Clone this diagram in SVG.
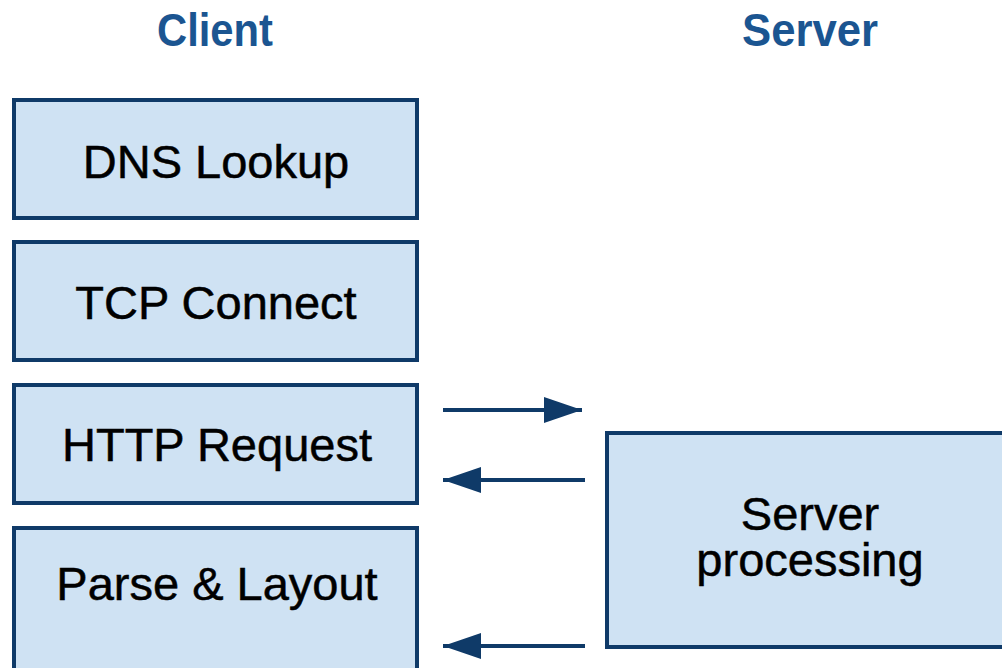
<svg xmlns="http://www.w3.org/2000/svg" width="1002" height="668" viewBox="0 0 1002 668">
  <defs>
    <marker id="arrowhead" markerUnits="userSpaceOnUse" markerWidth="40" markerHeight="28" refX="38" refY="14" orient="auto">
      <path d="M0,1 L38,14 L0,27 Z" fill="#0f3a68"/>
    </marker>
  </defs>
  <style>
    .box { fill: #cfe2f3; stroke: #0f3a68; stroke-width: 4; }
    .label { font-family: "Liberation Sans", Arial, sans-serif; font-size: 47px; fill: #000; stroke: #000; stroke-width: 0.5; text-anchor: middle; }
    .title { font-family: "Liberation Sans", Arial, sans-serif; font-size: 47px; font-weight: bold; fill: #1b5591; text-anchor: middle; }
    .conn { stroke: #0f3a68; stroke-width: 4; fill: none; marker-end: url(#arrowhead); }
  </style>
  <rect width="1002" height="668" fill="#ffffff"/>

  <!-- column headings -->
  <text class="title" x="215" y="46" textLength="116" lengthAdjust="spacingAndGlyphs">Client</text>
  <text class="title" x="810" y="46" textLength="136" lengthAdjust="spacingAndGlyphs">Server</text>

  <g id="dns-lookup">
    <rect class="box" x="14" y="100" width="403" height="118"/>
    <text class="label" x="216" y="178">DNS Lookup</text>
  </g>
  <g id="tcp-connect">
    <rect class="box" x="14" y="242" width="403" height="118"/>
    <text class="label" x="216" y="319">TCP Connect</text>
  </g>
  <g id="http-request">
    <rect class="box" x="14" y="385" width="403" height="118"/>
    <text class="label" x="217" y="461">HTTP Request</text>
  </g>
  <g id="parse-layout">
    <rect class="box" x="14" y="528" width="403" height="160"/>
    <text class="label" x="217" y="600">Parse &amp; Layout</text>
  </g>
  <g id="server-processing">
    <rect class="box" x="607" y="433" width="420" height="214"/>
    <text class="label" x="810" y="530">Server</text>
    <text class="label" x="810" y="576">processing</text>
  </g>

  <g id="connectors">
    <line class="conn" x1="443" y1="410" x2="582" y2="410"/>
    <line class="conn" x1="585" y1="480" x2="443" y2="480"/>
    <line class="conn" x1="585" y1="646" x2="443" y2="646"/>
  </g>
</svg>
